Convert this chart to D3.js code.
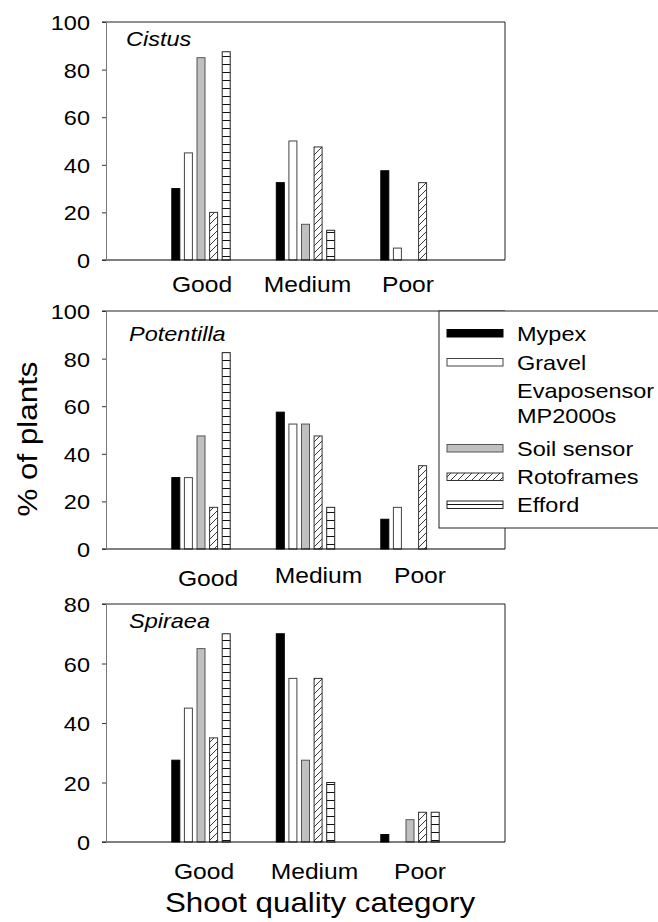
<!DOCTYPE html>
<html>
<head>
<meta charset="utf-8">
<script src="https://cdn.jsdelivr.net/npm/d3@7"></script>
<style>
  html, body { margin: 0; padding: 0; background: #fff; }
  svg { display: block; font-family: "Liberation Sans", Arial, sans-serif; }
</style>
</head>
<body>
<svg id="chart" width="658" height="922"></svg>
<script>
// Shoot quality categories (x axis)
const categories = ["Good", "Medium", "Poor"];

// Irrigation treatments, in legend order
const seriesNames = ["Mypex", "Gravel", "Evaposensor MP2000s", "Soil sensor", "Rotoframes", "Efford"];

// Species panels
const species = ["Cistus", "Potentilla", "Spiraea"];

// % of plants per treatment, values for [Good, Medium, Poor]; null = no data
const cistus = [
  [30, 32.5, 37.5],     // Mypex
  [45, 50, 5],          // Gravel
  [null, null, null],   // Evaposensor MP2000s
  [85, 15, 0],          // Soil sensor
  [20, 47.5, 32.5],     // Rotoframes
  [87.5, 12.5, 0]       // Efford
];
const potentilla = [
  [30, 57.5, 12.5],
  [30, 52.5, 17.5],
  [null, null, null],
  [47.5, 52.5, 0],
  [17.5, 47.5, 35],
  [82.5, 17.5, 0]
];
const spiraea = [
  [27.5, 70, 2.5],
  [45, 55, 0],
  [null, null, null],
  [65, 27.5, 7.5],
  [35, 55, 10],
  [70, 20, 10]
];
const panelValues = [cistus, potentilla, spiraea];

// Y-axis extent and tick labels per panel
const yMaxes = [100, 100, 80];
const yTicks = [
  [0, 20, 40, 60, 80, 100],
  [0, 20, 40, 60, 80, 100],
  [0, 20, 40, 60, 80]
];

// ---- layout ----
const SX = 1.12;                 // horizontal glyph stretch
const plotLeft = 106, plotRight = 505;
const panelTop = [22, 311, 604];
const panelH = 238;
const nameOffset = [[126, 24], [129, 30], [129, 23.5]];    // species label position
const catBaseline = [[32, 32, 32], [37, 33.5, 33.5], [36.5, 36.5, 36.5]];
const catDx = [[1, 2, -2], [7, 13, 10], [3, 9, 10]];

const svg = d3.select("#chart");

// fill patterns
const defs = svg.append("defs");
const hatch = defs.append("pattern").attr("id", "hatch")
  .attr("patternUnits", "userSpaceOnUse").attr("width", 7).attr("height", 7);
hatch.append("rect").attr("width", 7).attr("height", 7).attr("fill", "#fff");
hatch.append("path").attr("d", "M-2,2 l4,-4 M0,7 l7,-7 M5,9 l4,-4")
  .attr("stroke", "#222").attr("stroke-width", 0.9);

const hlines = defs.append("pattern").attr("id", "hlines")
  .attr("patternUnits", "userSpaceOnUse").attr("width", 8).attr("height", 8);
hlines.append("rect").attr("width", 8).attr("height", 8).attr("fill", "#fff");
hlines.append("path").attr("d", "M0,0.5 H8").attr("stroke", "#111").attr("stroke-width", 1);

const styles = {
  "Mypex":       { fill: "#000", stroke: "#000" },
  "Gravel":      { fill: "#fff", stroke: "#444" },
  "Soil sensor": { fill: "#c0c0c0", stroke: "#555" },
  "Rotoframes":  { fill: "url(#hatch)", stroke: "#333" },
  "Efford":      { fill: "url(#hlines)", stroke: "#222" }
};

// series that have bars
const barSeries = seriesNames.filter((s, i) => panelValues.some(p => p[i].some(v => v !== null)));

// group and within-group scales
const x = d3.scaleBand().domain(categories).range([plotLeft + 42.75, plotLeft + 356.25]).padding(0);
const xInner = d3.scaleBand().domain(barSeries).range([0, 58.4]).paddingInner(0.365).paddingOuter(0);
const groupPad = (x.bandwidth() - 58.4) / 2;

function stretchedText(g, px, py, str, size, anchor, extra) {
  return g.append("text")
    .attr("transform", `translate(${px},${py}) ${extra || ""} scale(${SX},1)`)
    .attr("text-anchor", anchor)
    .attr("font-size", size)
    .attr("fill", "#000")
    .text(str);
}

species.forEach((sp, pi) => {
  const top = panelTop[pi], bottom = top + panelH;
  const y = d3.scaleLinear().domain([0, yMaxes[pi]]).range([bottom, top]);
  const g = svg.append("g");

  // bars
  const values = panelValues[pi];
  seriesNames.forEach((s, si) => {
    if (!barSeries.includes(s)) return;
    const rows = categories.map((c, ci) => ({ c, v: values[si][ci] }))
      .filter(d => d.v !== null && d.v > 0);
    g.selectAll(null).data(rows).enter().append("rect")
      .attr("x", d => x(d.c) + groupPad + xInner(s))
      .attr("width", xInner.bandwidth())
      .attr("y", d => y(d.v))
      .attr("height", d => y(0) - y(d.v))
      .attr("fill", styles[s].fill)
      .attr("stroke", styles[s].stroke)
      .attr("stroke-width", 1);
  });

  // frame: top and right borders
  g.append("line").attr("x1", plotLeft - 4).attr("x2", plotRight).attr("y1", top).attr("y2", top)
    .attr("stroke", "#222").attr("stroke-width", 1);
  g.append("line").attr("x1", plotRight).attr("x2", plotRight).attr("y1", top).attr("y2", bottom)
    .attr("stroke", "#222").attr("stroke-width", 1);
  // bottom axis line
  g.append("line").attr("x1", plotLeft - 4).attr("x2", plotRight).attr("y1", bottom).attr("y2", bottom)
    .attr("stroke", "#000").attr("stroke-width", 1.2);

  // y axis
  const ya = g.append("g").attr("transform", `translate(${plotLeft},0)`)
    .call(d3.axisLeft(y).tickValues(yTicks[pi]).tickSize(4).tickSizeOuter(0).tickPadding(10.3));
  ya.select(".domain").attr("stroke", "#777");
  ya.selectAll(".tick line").attr("stroke", "#333");
  ya.selectAll(".tick text")
    .attr("font-size", 21).attr("font-family", "Liberation Sans, Arial, sans-serif")
    .attr("fill", "#000").attr("dy", "0.36em")
    .attr("transform", `scale(${SX},1)`);

  // category labels
  categories.forEach((c, ci) => {
    stretchedText(g, x(c) + x.bandwidth() / 2 + catDx[pi][ci], bottom + catBaseline[pi][ci], c, 22, "middle");
  });

  // species name
  stretchedText(g, nameOffset[pi][0], top + nameOffset[pi][1], sp, 21, "start")
    .attr("font-style", "italic");
});

// axis titles
stretchedText(svg, 320, 912, "Shoot quality category", 28, "middle");
stretchedText(svg, 37, 439, "% of plants", 28, "middle", "rotate(-90)");

// legend
const lg = svg.append("g");
lg.append("rect").attr("x", 439).attr("y", 311).attr("width", 240).attr("height", 217)
  .attr("fill", "#fff").attr("stroke", "#222").attr("stroke-width", 1);
const legendRows = [
  { s: "Mypex", lines: ["Mypex"], y: [333] },
  { s: "Gravel", lines: ["Gravel"], y: [362] },
  { s: "Evaposensor MP2000s", lines: ["Evaposensor", "MP2000s"], y: [390, 415] },
  { s: "Soil sensor", lines: ["Soil sensor"], y: [448] },
  { s: "Rotoframes", lines: ["Rotoframes"], y: [476.5] },
  { s: "Efford", lines: ["Efford"], y: [504.5] }
];
legendRows.forEach(r => {
  if (styles[r.s]) {
    lg.append("rect").attr("x", 447).attr("y", r.y[0] - 3.5).attr("width", 56).attr("height", 7.5)
      .attr("fill", styles[r.s].fill).attr("stroke", styles[r.s].stroke).attr("stroke-width", 1);
  }
  r.lines.forEach((t, li) => stretchedText(lg, 517, r.y[li] + 7.5, t, 21, "start"));
});
</script>
</body>
</html>
